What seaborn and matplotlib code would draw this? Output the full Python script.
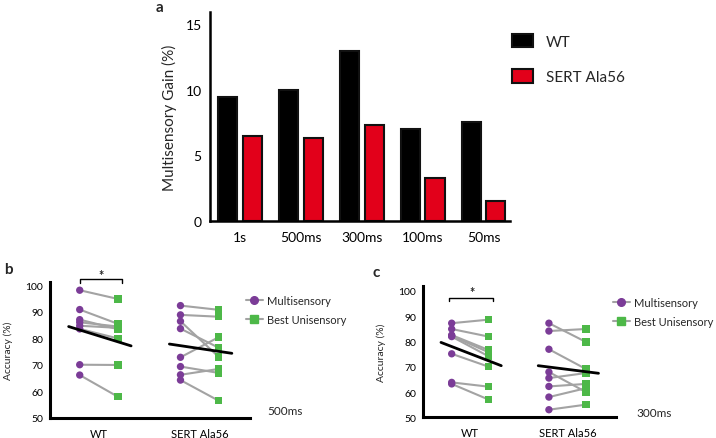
import numpy as np
import pandas as pd
import matplotlib
matplotlib.use("Agg")
import matplotlib.pyplot as plt
from matplotlib.lines import Line2D
import seaborn as sns

sns.set_theme(style="white")
plt.rcParams['font.family'] = ['Lato', 'DejaVu Sans']

# ---------------- data ----------------
intervals = ["1s", "500ms", "300ms", "100ms", "50ms"]
gain_wt = [9.45, 9.95, 12.9, 7.0, 7.5]
gain_sert = [6.45, 6.3, 7.3, 3.25, 1.55]
groups = ["WT", "SERT Ala56"]

# panel b (500ms)
b_wt_multi = [98.2, 90.9, 87.1, 86.1, 84.8, 83.6, 70.1, 66.2]
b_wt_uni = [94.9, 85.5, 83.5, 84.5, 84.0, 80.0, 70.0, 58.0]
b_sert_multi = [92.4, 88.9, 86.5, 83.7, 72.9, 69.4, 66.3, 64.3]
b_sert_uni = [90.8, 88.2, 73.0, 76.5, 80.5, 67.0, 68.5, 56.5]
b_trend_wt = [84.5, 77.2]
b_trend_sert = [77.9, 74.4]

# panel c (300ms)
c_wt_multi = [87.2, 84.9, 82.5, 82.2, 81.9, 75.1, 63.8, 63.2]
c_wt_uni = [88.6, 81.9, 76.6, 75.7, 74.1, 70.0, 62.1, 57.0]
c_sert_multi = [87.2, 84.1, 76.9, 67.9, 65.5, 62.2, 58.0, 53.0]
c_sert_uni = [79.8, 84.9, 69.1, 60.0, 67.5, 63.2, 61.5, 55.0]
c_trend_wt = [79.6, 70.4]
c_trend_sert = [70.4, 67.4]

PURPLE = "#7B3C97"
GREEN = "#4DB848"
RED = "#E2001A"
GRAY = "#A3A3A3"

W, H = 716, 439
fig = plt.figure(figsize=(W / 100, H / 100), dpi=100)


def fbox(l, t, r, b):
    return [l / W, 1 - b / H, (r - l) / W, (b - t) / H]


# ---------------- panel a ----------------
axa = fig.add_axes(fbox(210, 13, 510, 222))
dfa = pd.DataFrame({
    "interval": intervals * 2,
    "gain": gain_wt + gain_sert,
    "genotype": ["WT"] * 5 + ["SERT Ala56"] * 5,
})
sns.barplot(data=dfa, x="interval", y="gain", hue="genotype",
            palette={"WT": "black", "SERT Ala56": RED}, saturation=1,
            edgecolor="#111111", linewidth=1.5, width=0.8, gap=0.22,
            order=intervals, hue_order=["WT", "SERT Ala56"], ax=axa,
            legend=True)
axa.set_xlim(-0.49, 4.43)
axa.set_ylim(0, 15.9)
axa.set_yticks([0, 5, 10, 15])
axa.set_xlabel("")
axa.set_ylabel("Multisensory Gain (%)", fontsize=11)
axa.yaxis.set_label_coords(-(210 - 177) / 300, 0.5)
axa.tick_params(axis="both", length=0, labelsize=10, colors="black")
axa.tick_params(axis="y", pad=6)
axa.tick_params(axis="x", pad=7)
for s in ["top", "right"]:
    axa.spines[s].set_visible(False)
for s in ["left", "bottom"]:
    axa.spines[s].set_linewidth(1.8)
    axa.spines[s].set_color("black")
h, l = axa.get_legend_handles_labels()
axa.legend_.remove()
fig.legend(h, l, loc="upper left", bbox_to_anchor=(512 / W, 1 - 35 / H),
           frameon=False, fontsize=11, handlelength=1.4, handleheight=0.95,
           handletextpad=0.8, labelspacing=1.35, borderpad=0, borderaxespad=0)
fig.text(160 / W, 1 - 8 / H, "a", fontsize=11, fontweight="bold", va="center", ha="center")


# ---------------- panels b, c ----------------
def pair_panel(ax, wt_multi, wt_uni, sert_multi, sert_uni, trend_wt, trend_sert,
               ylim_top):
    rows = []
    off = 0.19
    for gi, (m, u) in enumerate([(wt_multi, wt_uni), (sert_multi, sert_uni)]):
        for k in range(len(m)):
            rows.append(dict(pair=f"{gi}-{k}", xpos=gi - off, acc=m[k], cond="Multisensory"))
            rows.append(dict(pair=f"{gi}-{k}", xpos=gi + off, acc=u[k], cond="Best Unisensory"))
    df = pd.DataFrame(rows)
    sns.lineplot(data=df, x="xpos", y="acc", units="pair", estimator=None,
                 color=GRAY, lw=1.5, ax=ax, legend=False)
    sns.scatterplot(data=df, x="xpos", y="acc", hue="cond", style="cond",
                    markers={"Multisensory": "o", "Best Unisensory": "s"},
                    palette={"Multisensory": PURPLE, "Best Unisensory": GREEN},
                    s=28, edgecolor="none", ax=ax, legend=False, zorder=3)
    for gi, tr in enumerate([trend_wt, trend_sert]):
        tdf = pd.DataFrame({"x": [gi - 0.30, gi + 0.32], "y": tr})
        sns.lineplot(data=tdf, x="x", y="y", color="black", lw=2, ax=ax, zorder=4)
    ax.set_xlim(-0.485, 1.5)
    ax.set_ylim(50, ylim_top)
    ax.set_yticks([50, 60, 70, 80, 90, 100])
    ax.set_xticks([0, 1])
    ax.set_xticklabels(groups, fontsize=8)
    ax.set_xlabel("")
    ax.set_ylabel("Accuracy (%)", fontsize=7.5)
    ax.tick_params(axis="both", length=0, colors="black")
    ax.tick_params(axis="y", labelsize=7.5, pad=5)
    ax.tick_params(axis="x", pad=7)
    for s in ["top", "right"]:
        ax.spines[s].set_visible(False)
    for s in ["left", "bottom"]:
        ax.spines[s].set_linewidth(2.2)
        ax.spines[s].set_color("black")


axb = fig.add_axes(fbox(50, 283, 250, 419))
pair_panel(axb, b_wt_multi, b_wt_uni, b_sert_multi, b_sert_uni, b_trend_wt, b_trend_sert, 101.3)
axb.yaxis.set_label_coords(-(50 - 13) / 200, 0.5)
axb.plot([-0.19, -0.19, 0.23, 0.23], [100.9, 102.5, 102.5, 100.9], color="black", lw=1, clip_on=False)
axb.text(0.02, 104.0, "*", ha="center", va="center", fontsize=9, fontweight="bold")

axc = fig.add_axes(fbox(423, 287, 616, 418.3))
pair_panel(axc, c_wt_multi, c_wt_uni, c_sert_multi, c_sert_uni, c_trend_wt, c_trend_sert, 101.9)
axc.yaxis.set_label_coords(-(423 - 386) / 193, 0.5)
axc.plot([-0.22, -0.22, 0.23, 0.23], [95.9, 97.2, 97.2, 95.9], color="black", lw=1, clip_on=False)
axc.text(0.02, 99.6, "*", ha="center", va="center", fontsize=9, fontweight="bold")

leg_handles = [
    Line2D([0], [0], color=GRAY, lw=1.5, marker="o", markersize=5.5,
           markerfacecolor=PURPLE, markeredgecolor=PURPLE),
    Line2D([0], [0], color=GRAY, lw=1.5, marker="s", markersize=5.5,
           markerfacecolor=GREEN, markeredgecolor=GREEN),
]
leg_labels = ["Multisensory", "Best Unisensory"]
for (lx, ly) in [(246, 296), (613, 298)]:
    fig.legend(leg_handles, leg_labels, loc="upper left", bbox_to_anchor=(lx / W, 1 - ly / H),
               frameon=False, fontsize=8, handlelength=1.5, handletextpad=0.4,
               labelspacing=0.75, borderpad=0, borderaxespad=0)

fig.text(267 / W, 1 - 411.7 / H, "500ms", fontsize=8.5, va="center", ha="left")
fig.text(636 / W, 1 - 413.3 / H, "300ms", fontsize=8.5, va="center", ha="left")
fig.text(8 / W, 1 - 270 / H, "b", fontsize=11, fontweight="bold", va="center", ha="center")
fig.text(376 / W, 1 - 273 / H, "c", fontsize=11, fontweight="bold", va="center", ha="center")

fig.savefig("out.png", dpi=100)
